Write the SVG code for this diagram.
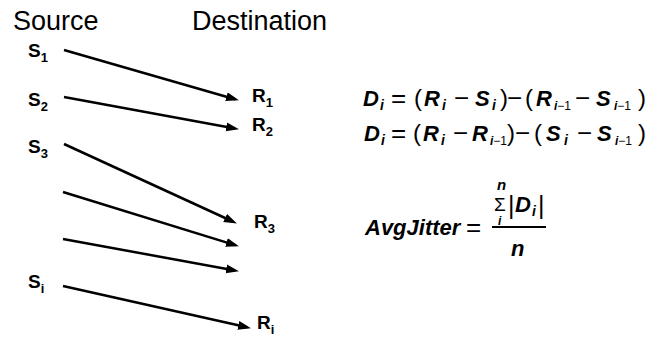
<svg xmlns="http://www.w3.org/2000/svg" width="651" height="339" viewBox="0 0 651 339">
<defs>
<style>
.hdr{font-family:"Liberation Sans",Arial,sans-serif;font-size:27px;fill:#000}
.lbl{font-family:"Liberation Sans",Arial,sans-serif;font-size:19px;font-weight:bold;fill:#000}
.sub{font-size:13px}
.eq{font-family:"Liberation Sans",Arial,sans-serif;font-size:22px;fill:#000}
.v{font-weight:bold;font-style:italic}
.es{font-size:14px;font-weight:bold;font-style:italic}
.es2{font-size:12px;font-weight:bold;font-style:italic}
.op{font-size:26px}
.pa{font-size:24px}
.n{font-weight:normal;font-style:normal}
.conn line{stroke:#000;stroke-width:2.5;fill:none}
</style>
<marker id="ah" markerUnits="userSpaceOnUse" markerWidth="14" markerHeight="10" refX="9" refY="4.5" orient="auto">
<path d="M0,0 L13,4.5 L0,9 z" fill="#000"/>
</marker>
</defs>
<rect width="651" height="339" fill="#fff"/>
<g id="headers">
<text class="hdr" x="13" y="30">Source</text>
<text class="hdr" x="192" y="30">Destination</text>
</g>
<g id="S1"><text class="lbl" x="28" y="57">S<tspan class="sub" dy="5">1</tspan></text></g>
<g id="S2"><text class="lbl" x="28" y="106">S<tspan class="sub" dy="5">2</tspan></text></g>
<g id="S3"><text class="lbl" x="28" y="153">S<tspan class="sub" dy="5">3</tspan></text></g>
<g id="Si"><text class="lbl" x="28" y="288">S<tspan class="sub" dy="5">i</tspan></text></g>
<g id="R1"><text class="lbl" x="252" y="102">R<tspan class="sub" dy="5">1</tspan></text></g>
<g id="R2"><text class="lbl" x="252" y="131">R<tspan class="sub" dy="5">2</tspan></text></g>
<g id="R3"><text class="lbl" x="254" y="228">R<tspan class="sub" dy="5">3</tspan></text></g>
<g id="Ri"><text class="lbl" x="257" y="329">R<tspan class="sub" dy="5">i</tspan></text></g>
<g id="connectors" class="conn">
<line x1="64" y1="50" x2="235.1" y2="99.2" marker-end="url(#ah)"/>
<line x1="64" y1="97" x2="235.05" y2="128.46" marker-end="url(#ah)"/>
<line x1="64" y1="144" x2="233.3" y2="221.75" marker-end="url(#ah)"/>
<line x1="63" y1="192" x2="235.1" y2="245.1" marker-end="url(#ah)"/>
<line x1="63" y1="239" x2="235.05" y2="270.46" marker-end="url(#ah)"/>
<line x1="63" y1="286" x2="247.1" y2="327.34" marker-end="url(#ah)"/>
</g>
<g id="eq1">
<text class="eq"><tspan class="v" x="363" y="106">D</tspan><tspan class="es" x="380" y="110">i</tspan><tspan class="op" x="391" y="107">=</tspan><tspan class="pa" x="414" y="106">(</tspan><tspan class="v" x="424" y="106">R</tspan><tspan class="es" x="442" y="110">i</tspan><tspan class="op" x="454" y="107">−</tspan><tspan class="v" x="475" y="106">S</tspan><tspan class="es" x="492" y="110">i</tspan><tspan class="pa" x="500" y="106">)</tspan><tspan class="op" x="507" y="107">−</tspan><tspan class="pa" x="525" y="106">(</tspan><tspan class="v" x="536" y="106">R</tspan><tspan class="es2" x="554" y="110">i<tspan class="n">−1</tspan></tspan><tspan class="op" x="575" y="107">−</tspan><tspan class="v" x="596" y="106">S</tspan><tspan class="es2" x="614" y="110">i<tspan class="n">−1</tspan></tspan><tspan class="pa" x="638" y="106">)</tspan></text>
</g>
<g id="eq2">
<text class="eq"><tspan class="v" x="364" y="141">D</tspan><tspan class="es" x="381" y="145">i</tspan><tspan class="op" x="391" y="142">=</tspan><tspan class="pa" x="413" y="141">(</tspan><tspan class="v" x="423" y="141">R</tspan><tspan class="es" x="441" y="145">i</tspan><tspan class="op" x="453" y="142">−</tspan><tspan class="v" x="472" y="141">R</tspan><tspan class="es2" x="490" y="145">i<tspan class="n">−1</tspan></tspan><tspan class="pa" x="507" y="141">)</tspan><tspan class="op" x="515" y="142">−</tspan><tspan class="pa" x="534" y="141">(</tspan><tspan class="v" x="546" y="141">S</tspan><tspan class="es" x="564" y="145">i</tspan><tspan class="op" x="577" y="142">−</tspan><tspan class="v" x="597" y="141">S</tspan><tspan class="es2" x="615" y="145">i<tspan class="n">−1</tspan></tspan><tspan class="pa" x="638" y="141">)</tspan></text>
</g>
<g id="eq3">
<text class="eq v" x="365" y="235">AvgJitter</text>
<text class="eq op" x="466" y="236">=</text>
<line x1="492" y1="227" x2="546" y2="227" stroke="#000" stroke-width="2"/>
<text class="eq"><tspan class="v" x="497" y="190" font-size="15">n</tspan><tspan x="494" y="211" font-size="19">Σ</tspan><tspan class="v" x="498" y="225" font-size="12">i</tspan><tspan x="508" y="214" font-size="25">|</tspan><tspan class="v" x="515" y="212">D</tspan><tspan class="es" x="532" y="216">i</tspan><tspan x="538" y="214" font-size="25">|</tspan></text>
<text class="eq v" x="511" y="256">n</text>
</g>
</svg>
